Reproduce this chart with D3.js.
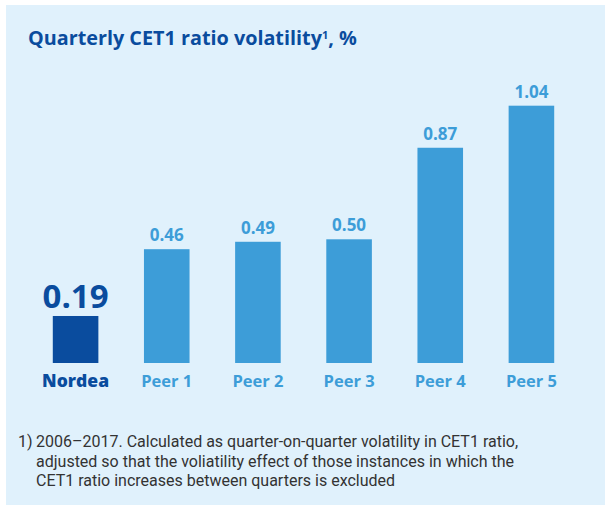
<!DOCTYPE html>
<html><head><meta charset="utf-8">
<script src="https://cdn.jsdelivr.net/npm/d3@7"></script>
<style>body{margin:0;background:#fff;}svg{display:block;}</style>
</head><body>
<script>
const categories = ["Nordea","Peer 1","Peer 2","Peer 3","Peer 4","Peer 5"];
const values = [0.19,0.46,0.49,0.50,0.87,1.04];
const valueLabels = ["0.19","0.46","0.49","0.50","0.87","1.04"];
const title = "Quarterly CET1 ratio volatility";
const footnoteLines = [
  ["1)", "2006\u20132017. Calculated as quarter-on-quarter volatility in CET1 ratio,"],
  ["", "adjusted so that the voliatility effect of those instances in which the"],
  ["", "CET1 ratio increases between quarters is excluded"]
];

const W=605,H=506;
const dark="#0a4c9e", light="#3d9dd8", bg="#e0f1fc";
const svg=d3.select("body").append("svg").attr("width",W).attr("height",H);
svg.append("rect").attr("x",6).attr("y",5).attr("width",W-6).attr("height",500).attr("fill",bg);

const t=svg.append("text").attr("x",28).attr("y",45).attr("fill",dark)
  .attr("font-family","'Open Sans',Lato,sans-serif").attr("font-weight",700).attr("font-size",19.8);
t.append("tspan").text(title);
t.append("tspan").attr("font-size",11).attr("dy",-6).text("1");
t.append("tspan").attr("dy",6).text(", %");

const x=d3.scaleBand().domain(categories).range([30,577]).paddingInner(0.5).paddingOuter(0.25);
const y=d3.scaleLinear().domain([0,1.04]).range([363,105.7]);

const g=svg.append("g");
g.selectAll("rect.bar").data(values).join("rect").attr("class","bar")
  .attr("x",(d,i)=>x(categories[i])).attr("width",x.bandwidth())
  .attr("y",d=>y(d)).attr("height",d=>y(0)-y(d))
  .attr("fill",(d,i)=>i===0?dark:light);

g.selectAll("text.val").data(values).join("text").attr("class","val")
  .attr("x",(d,i)=>x(categories[i])+x.bandwidth()/2)
  .attr("y",(d,i)=>y(d)-(i===0?8:8))
  .attr("text-anchor","middle")
  .attr("font-family","'Open Sans',Lato,sans-serif").attr("font-weight",700)
  .attr("font-size",(d,i)=>i===0?33:17)
  .attr("fill",(d,i)=>i===0?dark:light)
  .text((d,i)=>valueLabels[i]);

const xAxis=svg.append("g").attr("transform","translate(0,363)")
  .call(d3.axisBottom(x).tickSize(0).tickPadding(12));
xAxis.select(".domain").remove();
xAxis.selectAll("text")
  .attr("font-family","'Open Sans',Lato,sans-serif")
  .attr("font-weight",(d,i)=>i===0?800:700)
  .attr("font-size",(d,i)=>i===0?17.5:16.5)
  .attr("fill",(d,i)=>i===0?dark:light);

const fn=svg.append("g").attr("font-family","Roboto,sans-serif")
  .attr("font-size",16).attr("fill","#333");
footnoteLines.forEach((l,i)=>{
  if(l[0]) fn.append("text").attr("x",18).attr("y",447+i*19.5).text(l[0]);
  fn.append("text").attr("x",36).attr("y",447+i*19.5).text(l[1]);
});
</script>
</body></html>
